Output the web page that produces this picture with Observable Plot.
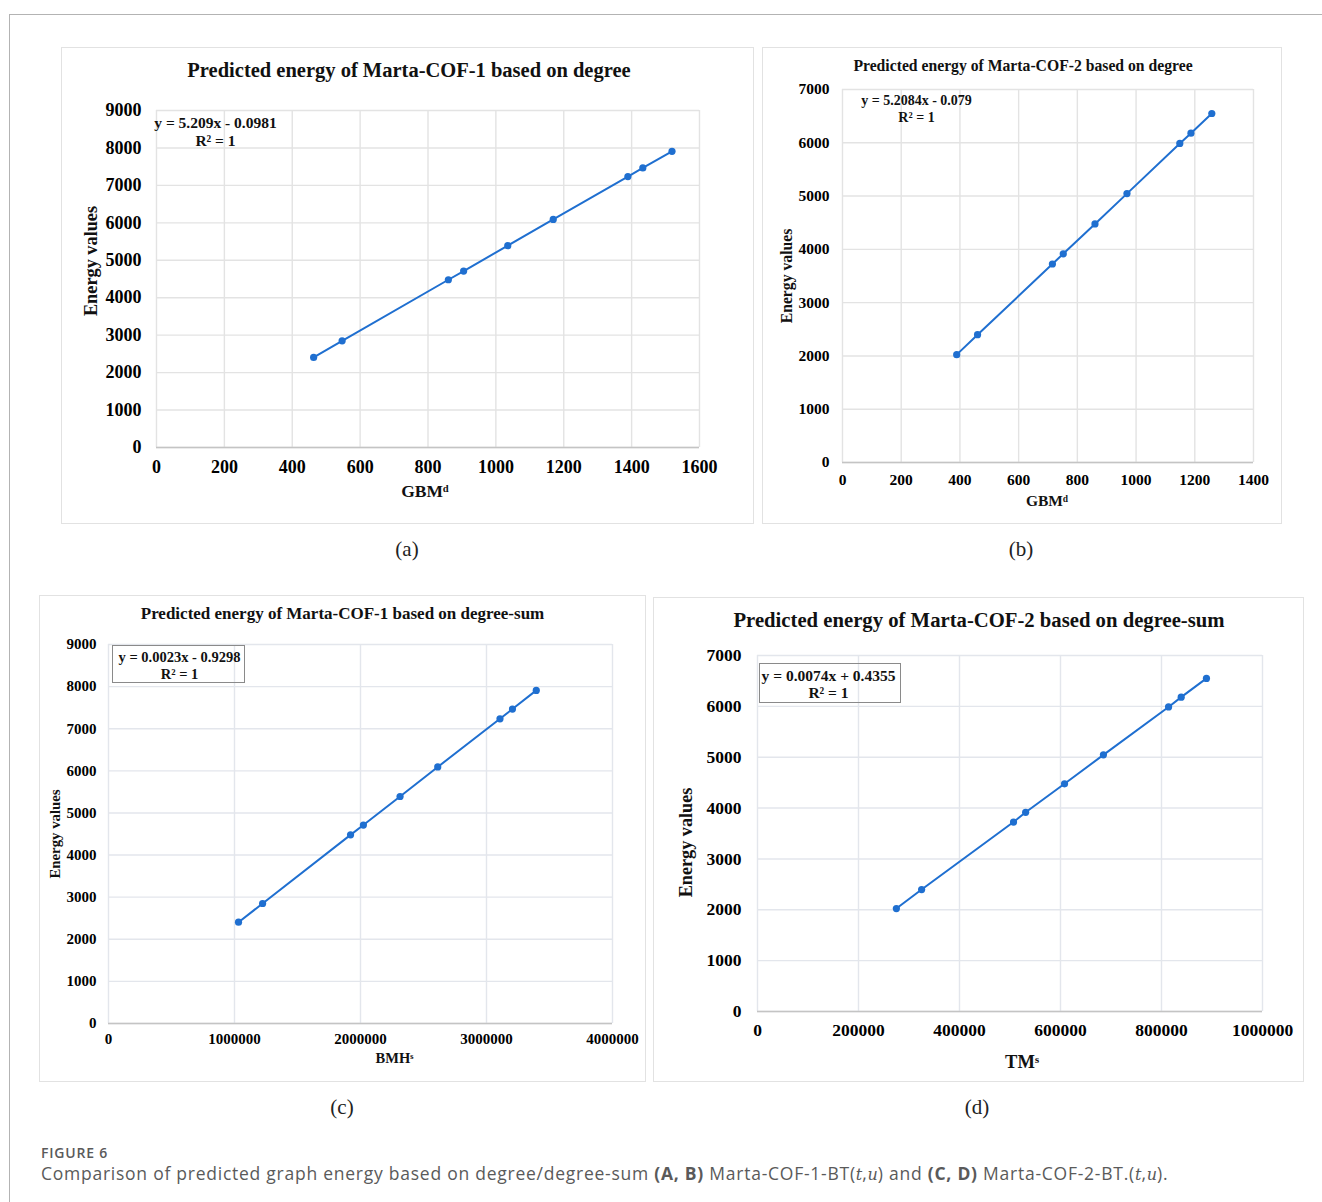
<!DOCTYPE html>
<html>
<head>
<meta charset="utf-8">
<script src="https://cdn.jsdelivr.net/npm/d3@7"></script>
<script src="https://cdn.jsdelivr.net/npm/@observablehq/plot@0.6"></script>
<style>
  body { margin: 0; background: #fff; }
  #page { position: relative; width: 1322px; height: 1202px; overflow: hidden; background: #fff; }
  .outer { position: absolute; left: 9px; top: 14px; width: 1400px; height: 1300px; border-top: 1px solid #b3b3b3; border-left: 1px solid #b3b3b3; }
  .box { position: absolute; border: 1px solid #e2e2e2; box-sizing: border-box; }
  .plotwrap { position: absolute; }
  .eqbox { position: absolute; border: 1px solid #8a8a8a; box-sizing: border-box; }
  .letter { position: absolute; font-family: "Liberation Serif", serif; font-size: 21px; color: #222; transform: translate(-50%, -50%); white-space: nowrap; }
  .figlabel { position: absolute; left: 41px; top: 1145px; height: 16px; line-height: 16px; font-family: "Open Sans", sans-serif; font-weight: 600; font-size: 14px; color: #5a5a5a; letter-spacing: 0.8px; }
  .caption { position: absolute; left: 41px; top: 1163px; height: 21px; line-height: 21px; font-family: "Open Sans", sans-serif; font-size: 17.5px; color: #5a5a5a; white-space: nowrap; letter-spacing: 0.75px; }
  .caption b { font-weight: 700; }
  .caption i { font-family: "DejaVu Serif", serif; font-style: italic; font-size: 16px; letter-spacing: 0; }
</style>
</head>
<body>
<div id="page">
  <div class="outer"></div>
</div>
<script>
// ---------------- data ----------------
const energyCOF1 = [2405, 2850, 4480, 4712, 5391, 6092, 7235, 7467, 7910];
const energyCOF2 = [2024, 2398, 3725, 3917, 4477, 5046, 5988, 6181, 6550];
const gbmdCOF1 = [463, 547, 860, 905, 1035, 1169, 1389, 1433, 1519];
const gbmdCOF2 = [389, 460, 715, 752, 860, 969, 1149, 1187, 1258];
const bmhsCOF1 = [1032000, 1223000, 1921000, 2023000, 2314000, 2613000, 3107000, 3206000, 3395000];
const tmsCOF2 = [275000, 325000, 507000, 531000, 608000, 685000, 814000, 839000, 889000];

const xTicksA = [0, 200, 400, 600, 800, 1000, 1200, 1400, 1600];
const xTicksB = [0, 200, 400, 600, 800, 1000, 1200, 1400];
const xTicksC = [0, 1000000, 2000000, 3000000, 4000000];
const xTicksD = [0, 200000, 400000, 600000, 800000, 1000000];
const yTicks9000 = [0, 1000, 2000, 3000, 4000, 5000, 6000, 7000, 8000, 9000];
const yTicks7000 = [0, 1000, 2000, 3000, 4000, 5000, 6000, 7000];

const titles = [
  "Predicted energy of Marta-COF-1 based on degree",
  "Predicted energy of Marta-COF-2 based on degree",
  "Predicted energy of Marta-COF-1 based on degree-sum",
  "Predicted energy of Marta-COF-2 based on degree-sum"
];
const xLabels = ["GBMᵈ", "GBMᵈ", "BMHˢ", "TMˢ"];
const yLabel = "Energy values";
const equations = ["y = 5.209x - 0.0981", "y = 5.2084x - 0.079", "y = 0.0023x - 0.9298", "y = 0.0074x + 0.4355"];
const rSquared = ["R² = 1", "R² = 1", "R² = 1", "R² = 1"];
const panelLetters = ["(a)", "(b)", "(c)", "(d)"];

// ---------------- layout ----------------
const blue = "#1f6fd0";
const layouts = [
  { box: [61, 47, 754, 524], frame: [156, 110, 699, 447], tick: 18, xPad: 13, yPad: 15,
    titleSize: 20.5, titleDx: -19, titleDy: -40,
    xlabSize: 17.5, xlabDx: -3, xlabDy: 44,
    ylabSize: 18.3, ylabDx: -65, ylabDy: -18,
    eqSize: 15.5, eqDx: 59, eqDy: 13, r2Dy: 31, eqBox: null,
    letter: [407, 549], grid: "#e3e3e3" },
  { box: [762, 47, 1282, 524], frame: [842, 89, 1253, 462], tick: 15.5, xPad: 11, yPad: 13,
    titleSize: 15.7, titleDx: -25, titleDy: -24,
    xlabSize: 15.5, xlabDx: -1, xlabDy: 39,
    ylabSize: 15.7, ylabDx: -56, ylabDy: 0,
    eqSize: 14, eqDx: 74, eqDy: 11, r2Dy: 28, eqBox: null,
    letter: [1021, 549], grid: "#e3e3e3" },
  { box: [39, 595, 646, 1082], frame: [108, 644, 612, 1023], tick: 15, xPad: 10, yPad: 12,
    titleSize: 17, titleDx: -18, titleDy: -31,
    xlabSize: 14.5, xlabDx: 34, xlabDy: 35,
    ylabSize: 14.8, ylabDx: -53, ylabDy: 0,
    eqSize: 14.5, eqDx: 71, eqDy: 13, r2Dy: 30, eqBox: [112, 645, 245, 683],
    letter: [342, 1107], grid: "#e3e6ec" },
  { box: [653, 597, 1304, 1082], frame: [757, 655, 1262, 1011], tick: 17.5, xPad: 12, yPad: 16,
    titleSize: 20.7, titleDx: -31, titleDy: -35,
    xlabSize: 18.5, xlabDx: 12, xlabDy: 51,
    ylabSize: 18.2, ylabDx: -71, ylabDy: 9,
    eqSize: 15.5, eqDx: 71, eqDy: 21, r2Dy: 38, eqBox: [759, 663, 901, 703],
    letter: [977, 1107], grid: "#e3e6ec" }
];

const series = [
  { xs: gbmdCOF1, ys: energyCOF1, xTicks: xTicksA, yTicks: yTicks9000 },
  { xs: gbmdCOF2, ys: energyCOF2, xTicks: xTicksB, yTicks: yTicks7000 },
  { xs: bmhsCOF1, ys: energyCOF1, xTicks: xTicksC, yTicks: yTicks9000 },
  { xs: tmsCOF2, ys: energyCOF2, xTicks: xTicksD, yTicks: yTicks7000 }
];

const page = document.getElementById("page");
const fmt = d3.format("d");

series.forEach((s, i) => {
  const L = layouts[i];
  const [bx0, by0, bx1, by1] = L.box;
  const [fx0, fy1, fx1, fy0] = L.frame;

  const box = document.createElement("div");
  box.className = "box";
  Object.assign(box.style, { left: bx0 + "px", top: by0 + "px", width: (bx1 - bx0) + "px", height: (by1 - by0) + "px" });
  page.appendChild(box);

  const pts = s.xs.map((x, k) => ({ x, y: s.ys[k] }));
  const txt = { text: d => d, lineAnchor: "middle", textAnchor: "middle", fill: "#111" };
  const plot = Plot.plot({
    width: bx1 - bx0,
    height: by1 - by0,
    marginLeft: fx0 - bx0,
    marginRight: bx1 - fx1,
    marginTop: fy1 - by0,
    marginBottom: by1 - fy0,
    x: { domain: [s.xTicks[0], s.xTicks[s.xTicks.length - 1]] },
    y: { domain: [s.yTicks[0], s.yTicks[s.yTicks.length - 1]] },
    style: "font-family:'Liberation Serif',serif;font-weight:bold;color:#000;background:transparent;overflow:visible;",
    marks: [
      Plot.gridY(s.yTicks, { stroke: L.grid, strokeOpacity: 1, strokeWidth: 1.4 }),
      Plot.gridX(s.xTicks, { stroke: L.grid, strokeOpacity: 1, strokeWidth: 1.4 }),
      Plot.ruleY([0], { stroke: "#c4c4c4", strokeWidth: 1.4 }),
      Plot.axisX(s.xTicks, { tickSize: 0, tickPadding: L.xPad, tickFormat: fmt, fontSize: L.tick, label: null }),
      Plot.axisY(s.yTicks, { tickSize: 0, tickPadding: L.yPad, tickFormat: fmt, fontSize: L.tick, label: null }),
      Plot.line(pts, { x: "x", y: "y", stroke: blue, strokeWidth: 2 }),
      Plot.dot(pts, { x: "x", y: "y", fill: blue, r: 3.6 }),
      Plot.text([titles[i]], { ...txt, frameAnchor: "top", dx: L.titleDx, dy: L.titleDy, fontSize: L.titleSize }),
      Plot.text([xLabels[i]], { ...txt, frameAnchor: "bottom", dx: L.xlabDx, dy: L.xlabDy, fontSize: L.xlabSize }),
      Plot.text([yLabel], { ...txt, frameAnchor: "left", rotate: -90, dx: L.ylabDx, dy: L.ylabDy, fontSize: L.ylabSize }),
      Plot.text([equations[i]], { ...txt, frameAnchor: "top-left", dx: L.eqDx, dy: L.eqDy, fontSize: L.eqSize }),
      Plot.text([rSquared[i]], { ...txt, frameAnchor: "top-left", dx: L.eqDx, dy: L.r2Dy, fontSize: L.eqSize })
    ]
  });
  const wrap = document.createElement("div");
  wrap.className = "plotwrap";
  Object.assign(wrap.style, { left: bx0 + "px", top: by0 + "px" });
  wrap.appendChild(plot);
  page.appendChild(wrap);

  if (L.eqBox) {
    const [ex0, ey0, ex1, ey1] = L.eqBox;
    const eb = document.createElement("div");
    eb.className = "eqbox";
    Object.assign(eb.style, { left: ex0 + "px", top: ey0 + "px", width: (ex1 - ex0) + "px", height: (ey1 - ey0) + "px" });
    page.appendChild(eb);
  }

  const lt = document.createElement("div");
  lt.className = "letter";
  lt.textContent = panelLetters[i];
  Object.assign(lt.style, { left: L.letter[0] + "px", top: L.letter[1] + "px" });
  page.appendChild(lt);
});

const fig = document.createElement("div");
fig.className = "figlabel";
fig.textContent = "FIGURE 6";
page.appendChild(fig);

const cap = document.createElement("div");
cap.className = "caption";
cap.innerHTML = "Comparison of predicted graph energy based on degree/degree-sum <b>(A, B)</b> Marta-COF-1-BT(<i>t</i>,<i>u</i>) and <b>(C, D)</b> Marta-COF-2-BT.(<i>t</i>,<i>u</i>).";
page.appendChild(cap);
</script>
</body>
</html>
